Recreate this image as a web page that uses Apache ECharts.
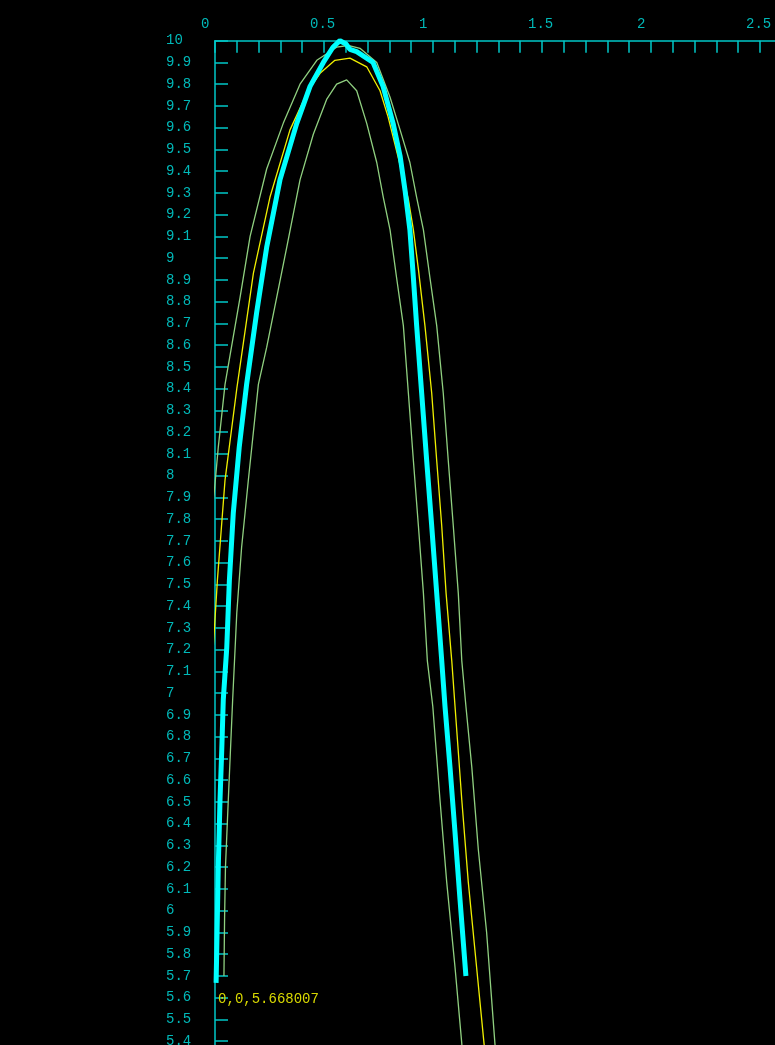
<!DOCTYPE html>
<html>
<head>
<meta charset="utf-8">
<script src="https://cdn.jsdelivr.net/npm/echarts@6/dist/echarts.min.js"></script>
<style>
html,body{margin:0;padding:0;background:#000;overflow:hidden;}
#chart{width:800px;height:1100px;}
</style>
</head>
<body>
<div id="chart"></div>
<script>
// ---- data (x, y) ----
var measuredCurve = [
  [0.005,5.668],[0.008,5.82],[0.015,6.20],[0.023,6.51],[0.031,6.74],[0.038,6.97],
  [0.054,7.21],[0.066,7.52],[0.084,7.83],[0.111,8.13],[0.145,8.42],[0.191,8.75],
  [0.237,9.05],[0.298,9.36],[0.375,9.62],[0.436,9.79],[0.497,9.90],[0.541,9.97],
  [0.573,10.0],[0.601,9.985],[0.619,9.96],[0.650,9.95],[0.725,9.90],[0.771,9.79],
  [0.817,9.62],[0.849,9.47],[0.872,9.31],[0.894,9.13],[0.910,8.91],[0.925,8.69],
  [0.948,8.38],[0.971,8.07],[0.994,7.77],[1.017,7.46],[1.040,7.15],[1.055,6.94],
  [1.078,6.66],[1.101,6.36],[1.124,6.05],[1.151,5.70]
];
var fitCurve = [
  [-0.057,5.22],[-0.056,5.90],[-0.047,6.20],[-0.035,6.59],[-0.021,6.97],[-0.008,7.21],
  [0.011,7.52],[0.046,7.98],[0.100,8.40],[0.176,8.93],[0.252,9.28],[0.344,9.59],
  [0.427,9.77],[0.482,9.85],[0.550,9.91],[0.619,9.92],[0.696,9.88],[0.757,9.77],
  [0.794,9.65],[0.839,9.47],[0.887,9.27],[0.910,9.13],[0.933,8.95],[0.963,8.69],
  [0.994,8.38],[1.017,8.07],[1.040,7.77],[1.060,7.46],[1.086,7.15],[1.101,6.94],
  [1.132,6.51],[1.162,6.13],[1.200,5.74],[1.234,5.39],[1.252,5.22]
];
var upperBand = [
  [-0.103,5.22],[-0.102,5.59],[-0.100,6.08],[-0.092,6.36],[-0.077,6.66],[-0.067,6.97],
  [-0.050,7.37],[-0.031,7.67],[-0.003,7.93],[0.015,8.13],[0.046,8.42],[0.115,8.82],
  [0.161,9.10],[0.237,9.41],[0.313,9.62],[0.390,9.80],[0.467,9.91],[0.558,9.97],
  [0.610,9.978],[0.665,9.965],[0.742,9.90],[0.803,9.74],[0.849,9.59],[0.894,9.44],
  [0.925,9.28],[0.956,9.13],[0.986,8.91],[1.017,8.69],[1.047,8.38],[1.070,8.07],
  [1.093,7.77],[1.116,7.46],[1.132,7.15],[1.151,6.94],[1.178,6.66],[1.208,6.28],
  [1.246,5.90],[1.284,5.39],[1.298,5.22]
];
var lowerBand = [
  [0.041,5.70],[0.044,5.97],[0.048,6.20],[0.061,6.51],[0.081,6.97],[0.100,7.37],
  [0.122,7.67],[0.153,7.98],[0.199,8.42],[0.237,8.59],[0.283,8.82],[0.329,9.05],
  [0.390,9.36],[0.451,9.57],[0.512,9.73],[0.558,9.80],[0.604,9.82],[0.650,9.77],
  [0.696,9.62],[0.742,9.44],[0.772,9.28],[0.803,9.13],[0.833,8.91],[0.864,8.69],
  [0.887,8.38],[0.910,8.07],[0.933,7.77],[0.956,7.46],[0.974,7.15],[0.999,6.94],
  [1.032,6.51],[1.063,6.13],[1.101,5.74],[1.132,5.39],[1.142,5.22]
];
var startPoint = [0.005, 5.668];
var startLabel = '0,0,5.668007';
var xLabelValues = [0, 0.5, 1, 1.5, 2, 2.5];

var axisColor = '#00c8c8';
var labelColor = '#00b8b8';
var monoFont = '"Liberation Mono","DejaVu Sans Mono",monospace';

var chart = echarts.init(document.getElementById('chart'), null, {renderer:'canvas'});
chart.setOption({
  backgroundColor: '#000',
  animation: false,
  grid: {left: 215, top: 40.7, width: 566.8, height: 1022.25, containLabel: false},
  xAxis: {
    type: 'value', position: 'top', min: 0, max: 2.6, interval: 0.1,
    axisLine: {show: true, onZero: false, lineStyle: {color: axisColor, width: 1.5}},
    axisTick: {show: true, inside: true, length: 12, lineStyle: {color: axisColor, width: 1.5}},
    splitLine: {show: false},
    axisLabel: {
      show: true, color: labelColor, fontFamily: monoFont, fontSize: 14,
      margin: 9, align: 'left', padding: [0, 0, 0, -14],
      formatter: function (v) {
        for (var i = 0; i < xLabelValues.length; i++) {
          if (Math.abs(v - xLabelValues[i]) < 1e-6) return String(xLabelValues[i]);
        }
        return '';
      }
    }
  },
  yAxis: {
    type: 'value', min: 5.3, max: 10, interval: 0.1,
    axisLine: {show: true, onZero: false, lineStyle: {color: axisColor, width: 1.5}},
    axisTick: {show: true, inside: true, length: 13, lineStyle: {color: axisColor, width: 1.5}},
    splitLine: {show: false},
    axisLabel: {
      show: true, color: labelColor, fontFamily: monoFont, fontSize: 14,
      margin: 49, align: 'left', padding: [4, 0, 0, 0],
      formatter: function (v) { return String(Math.round(v * 10) / 10); }
    }
  },
  series: [
    {type: 'line', data: upperBand, showSymbol: false, clip: false, silent: true,
     lineStyle: {color: '#90d080', width: 1.3}},
    {type: 'line', data: lowerBand, showSymbol: false, clip: false, silent: true,
     lineStyle: {color: '#90d080', width: 1.3}},
    {type: 'line', data: fitCurve, showSymbol: false, clip: false, silent: true,
     lineStyle: {color: '#f0f000', width: 1.3}},
    {type: 'line', data: measuredCurve, showSymbol: false, clip: false, silent: true,
     lineStyle: {color: '#00ffff', width: 5},
     markPoint: {
       symbol: 'circle', symbolSize: 0, silent: true,
       data: [{coord: startPoint}],
       label: {show: true, position: [2, 9], formatter: startLabel,
         color: '#d8d800', fontFamily: monoFont, fontSize: 14}
     }}
  ]
});
</script>
</body>
</html>
